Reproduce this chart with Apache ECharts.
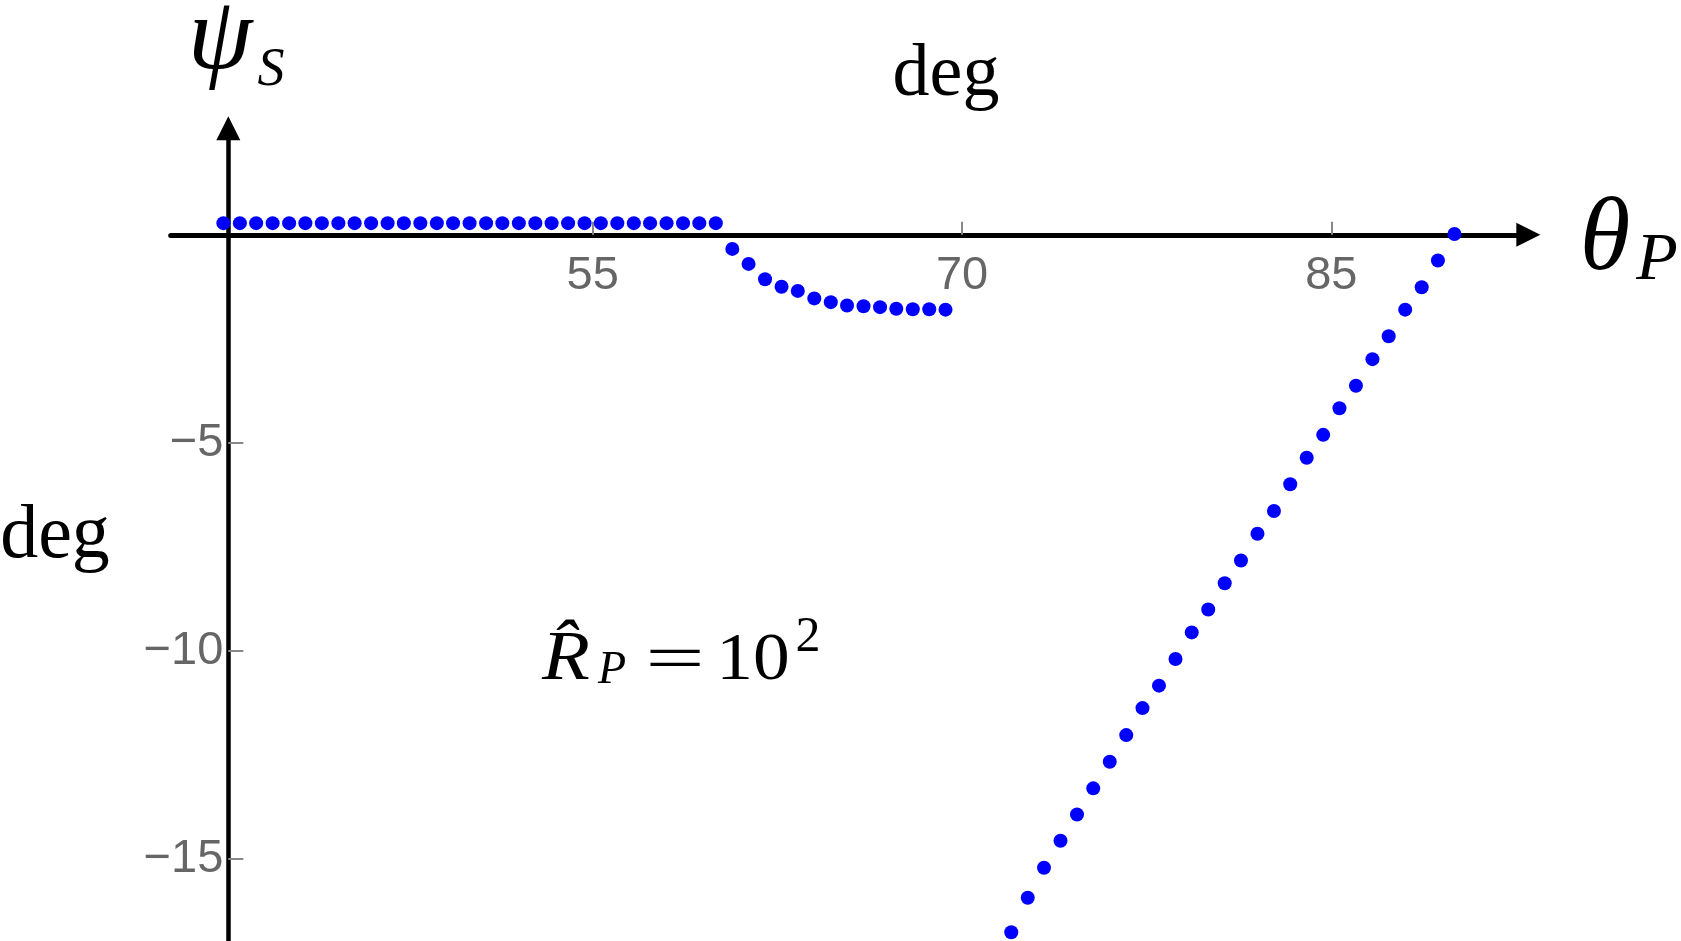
<!DOCTYPE html>
<html>
<head>
<meta charset="utf-8">
<title>psi_S vs theta_P</title>
<script src="https://cdn.jsdelivr.net/npm/echarts@6/dist/echarts.min.js"></script>
<style>
  html, body { margin: 0; padding: 0; background: #fff; }
  #chart { width: 1681px; height: 941px; }
</style>
</head>
<body>
<div id="chart"></div>
<script>
// theta_P (deg) and psi_S (deg), three runs of dots
const thetaFlat = [40, 40.67, 41.33, 42, 42.67, 43.33, 44, 44.67, 45.33, 46, 46.67, 47.33, 48, 48.67, 49.33, 50,
  50.67, 51.33, 52, 52.67, 53.33, 54, 54.67, 55.33, 56, 56.67, 57.33, 58, 58.67, 59.33, 60];
const psiFlat = [0.28, 0.28, 0.28, 0.28, 0.28, 0.28, 0.28, 0.28, 0.28, 0.28, 0.28, 0.28, 0.28, 0.28, 0.28, 0.28,
  0.28, 0.28, 0.28, 0.28, 0.28, 0.28, 0.28, 0.28, 0.28, 0.28, 0.28, 0.28, 0.28, 0.28, 0.28];

const thetaDip = [60.67, 61.33, 62, 62.67, 63.33, 64, 64.67, 65.33, 66, 66.67, 67.33, 68, 68.67, 69.33];
const psiDip = [-0.34, -0.70, -1.07, -1.25, -1.35, -1.53, -1.62, -1.70, -1.72, -1.74, -1.78, -1.79, -1.79, -1.80];

const thetaRise = [72, 72.67, 73.33, 74, 74.67, 75.33, 76, 76.67, 77.33, 78, 78.67, 79.33, 80, 80.67,
  81.33, 82, 82.67, 83.33, 84, 84.67, 85.33, 86, 86.67, 87.33, 88, 88.67, 89.33, 90];
const psiRise = [-16.77, -15.94, -15.22, -14.57, -13.94, -13.31, -12.67, -12.03, -11.38, -10.84, -10.20, -9.56,
  -9.01, -8.38, -7.83, -7.19, -6.64, -6.00, -5.36, -4.81, -4.17, -3.63, -2.99, -2.44, -1.80, -1.26, -0.62, 0.02];

const xTicks = [55, 70, 85];
const yTicks = [-15, -10, -5];

const thetaP = thetaFlat.concat(thetaDip, thetaRise);
const psiS = psiFlat.concat(psiDip, psiRise);
const points = thetaP.map((t, i) => [t, psiS[i]]);

const chart = echarts.init(document.getElementById('chart'));

// helper for the free text (axis names, units, annotation)
function label(text, x, y, size, italic, sx) {
  return {
    type: 'text',
    x: x,
    y: y,
    scaleX: sx || 1,
    style: {
      text: text,
      fontSize: size,
      fontFamily: 'Liberation Serif',
      fontStyle: italic ? 'italic' : 'normal',
      fill: '#000',
      align: 'center',
      verticalAlign: 'middle'
    }
  };
}

const option = {
  backgroundColor: '#fff',
  animation: false,
  grid: {
    left: 170.7,
    right: 152.7,
    top: 128.3,
    bottom: 0,
    containLabel: false,
    outerBoundsMode: 'none'
  },
  xAxis: {
    type: 'value',
    min: 37.86,
    max: 93.0,
    axisLine: {
      onZero: true,
      symbol: ['none', 'triangle'],
      symbolSize: [24, 24],
      lineStyle: { color: '#000', width: 5 }
    },
    axisTick: {
      inside: true,
      length: 13,
      customValues: xTicks,
      lineStyle: { color: '#888', width: 2 }
    },
    axisLabel: { show: false },
    splitLine: { show: false }
  },
  yAxis: {
    type: 'value',
    min: -16.98,
    max: 2.56,
    position: 'left',
    offset: -57.6,
    axisLine: {
      onZero: false,
      symbol: ['none', 'triangle'],
      symbolSize: [24, 24],
      lineStyle: { color: '#000', width: 4.5 }
    },
    axisTick: {
      inside: true,
      length: 15,
      customValues: yTicks,
      lineStyle: { color: '#888', width: 2 }
    },
    axisLabel: {
      customValues: yTicks,
      margin: 5,
      fontSize: 47,
      fontFamily: 'Liberation Sans',
      color: '#666',
      formatter: v => String(v).replace('-', '\u2212')
    },
    splitLine: { show: false }
  },
  series: [
    {
      type: 'scatter',
      data: points,
      symbol: 'circle',
      symbolSize: 14,
      itemStyle: { color: '#0000ff', opacity: 1 },
      z: 3
    },
    {
      // tick labels of the theta axis, sitting under the line psi = 0
      type: 'scatter',
      data: xTicks.map(v => [v, 0]),
      symbolSize: 0,
      silent: true,
      itemStyle: { opacity: 1 },
      label: {
        show: true,
        position: 'bottom',
        distance: 18,
        formatter: p => String(p.value[0]),
        fontSize: 47,
        fontFamily: 'Liberation Sans',
        color: '#666',
        opacity: 1
      },
      z: 1
    }
  ],
  graphic: [
    label('ψ', 220, 41, 104, true),
    label('S', 271, 71, 54, true),
    label('θ', 1605, 242, 103, true),
    label('P', 1657, 261, 68, true),
    label('deg', 946, 76, 74, false),
    label('deg', 55, 537, 76, false),
    label('R\u0302', 566, 661, 70, true, 1.12),
    label('P', 612, 671, 46, true),
    label('=', 675, 663, 66, false, 1.6),
    label('10', 753, 661, 68, false, 1.08),
    label('2', 808, 638, 50, false)
  ]
};

chart.setOption(option);
window.addEventListener('resize', function () {
  chart.resize();
});
</script>
</body>
</html>
